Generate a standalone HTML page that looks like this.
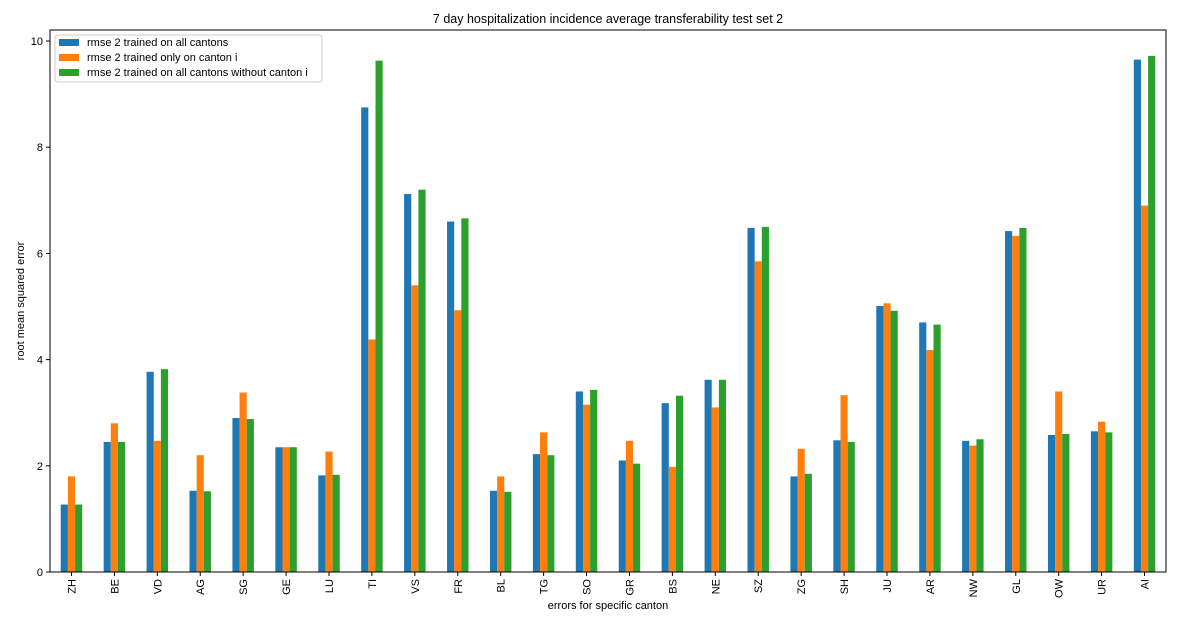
<!DOCTYPE html>
<html><head><meta charset="utf-8"><style>
body{margin:0;background:#fff;font-family:"Liberation Sans","DejaVu Sans",sans-serif}
svg text{font-family:"Liberation Sans","DejaVu Sans",sans-serif;fill:#000}
</style></head><body>
<svg id="chart" width="1180" height="612"></svg>
<script>
const cantons=["ZH","BE","VD","AG","SG","GE","LU","TI","VS","FR","BL","TG","SO","GR","BS","NE","SZ","ZG","SH","JU","AR","NW","GL","OW","UR","AI"];
const allCantons=[1.27,2.45,3.77,1.53,2.9,2.35,1.82,8.75,7.12,6.6,1.53,2.22,3.4,2.1,3.18,3.62,6.48,1.8,2.48,5.01,4.7,2.47,6.42,2.58,2.65,9.65];
const onlyCanton=[1.8,2.8,2.47,2.2,3.38,2.35,2.27,4.38,5.4,4.93,1.8,2.63,3.15,2.47,1.98,3.1,5.85,2.32,3.33,5.06,4.18,2.38,6.33,3.4,2.83,6.9];
const withoutCanton=[1.27,2.45,3.82,1.52,2.88,2.35,1.83,9.63,7.2,6.66,1.51,2.2,3.43,2.04,3.32,3.62,6.5,1.85,2.45,4.92,4.66,2.5,6.48,2.6,2.63,9.72];
const yTicks=[0,2,4,6,8,10];
const seriesNames=["rmse 2 trained on all cantons","rmse 2 trained only on canton i","rmse 2 trained on all cantons without canton i"];

const NS="http://www.w3.org/2000/svg",svg=document.getElementById("chart");
const L=50,R=1166,T=30,B=572;
const y=v=>B-v*(B-41)/10;
const step=(R-L)/cantons.length;
const x=i=>L+step*(i+0.5);
function mk(tag,a,p){const e=document.createElementNS(NS,tag);for(const k in a)e.setAttribute(k,a[k]);(p||svg).appendChild(e);return e;}
const colors=["#1f77b4","#ff7f0e","#2ca02c"];
const series=[allCantons,onlyCanton,withoutCanton];
const bw=step*0.5/3;
series.forEach((s,si)=>s.forEach((v,i)=>{
 const r=mk("rect",{x:x(i)-1.5*bw+si*bw,y:y(v),width:bw,height:B-y(v),fill:colors[si]});
 
 
}));
mk("rect",{x:L,y:T,width:R-L,height:B-T,fill:"none",stroke:"#000","stroke-width":1});
yTicks.forEach(t=>{
 mk("line",{x1:L-4,x2:L,y1:y(t),y2:y(t),stroke:"#000"});
 const tx=mk("text",{x:L-7,y:y(t)+4,"text-anchor":"end","font-size":11});tx.textContent=t;
 
 
});
cantons.forEach((c,i)=>{
 mk("line",{x1:x(i),x2:x(i),y1:B,y2:B+4,stroke:"#000"});
 const tx=mk("text",{transform:`translate(${x(i)+4},${B+7}) rotate(-90)`,"text-anchor":"end","font-size":11});tx.textContent=c;
 
 
});
let t=mk("text",{x:(L+R)/2,y:23,"text-anchor":"middle","font-size":12.5});t.textContent="7 day hospitalization incidence average transferability test set 2";

t=mk("text",{x:(L+R)/2,y:609,"text-anchor":"middle","font-size":11});t.textContent="errors for specific canton";

t=mk("text",{transform:`translate(24,${(T+B)/2}) rotate(-90)`,"text-anchor":"middle","font-size":11});t.textContent="root mean squared error";

const lg=mk("g",{});
mk("rect",{x:55,y:35,width:267,height:47,rx:3,fill:"#fff",stroke:"#ccc"},lg);
seriesNames.forEach((n,i)=>{
 const g=mk("g",{},lg);
 mk("rect",{x:59,y:39+i*15,width:20,height:7,fill:colors[i]},g);
 const tx=mk("text",{x:87,y:46+i*15,"font-size":11},g);tx.textContent=n;
});
</script></body></html>
